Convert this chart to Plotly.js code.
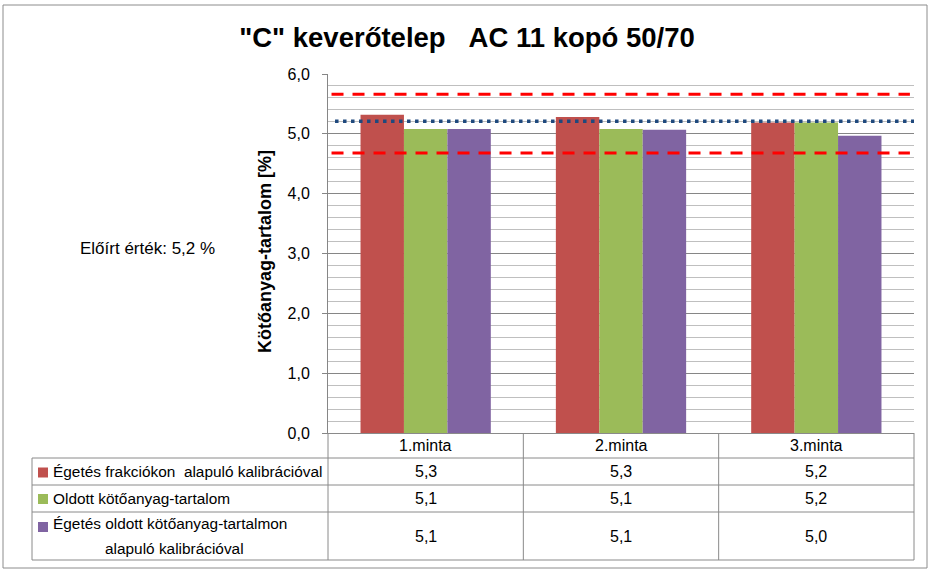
<!DOCTYPE html>
<html>
<head>
<meta charset="utf-8">
<script src="https://cdn.plot.ly/plotly-3.0.1.min.js"></script>
<style>html,body{margin:0;padding:0;background:#fff;}#chart{width:937px;height:573px;}</style>
</head>
<body>
<div id="chart"></div>
<script>
// ---- data ----
const categories = ['1.minta', '2.minta', '3.minta'];
const seriesNames = [
  'Égetés frakciókon\u00a0 alapuló kalibrációval',
  'Oldott kötőanyag-tartalom',
  'Égetés oldott kötőanyag-tartalmon<br>alapuló kalibrációval'
];
const fractionCalib = [5.32, 5.28, 5.19];
const dissolvedBinder = [5.08, 5.08, 5.19];
const dissolvedCalib = [5.08, 5.07, 4.97];
const upperLimit = 5.66;
const lowerLimit = 4.68;
const targetValue = 5.21;
const targetLabel = 'Előírt érték: 5,2 %';
const yTitle = 'Kötőanyag-tartalom [%]';
const chartTitle = '"C" keverőtelep\u00a0\u00a0\u00a0AC 11 kopó 50/70';
const colors = ['#C0504D', '#9BBB59', '#8064A2'];

// ---- layout helpers (pixel -> paper) ----
const L = 328, R = 914, T = 74, B = 433;
const X = px => (px - L) / (R - L);
const Y = py => (B - py) / (B - T);
const FONT = 'Liberation Sans, Arial, sans-serif';
const gridGray = '#868686';
const lineGray = '#8a8a8a';

const allSeries = [fractionCalib, dissolvedBinder, dissolvedCalib];
const traces = allSeries.map((vals, i) => ({
  type: 'bar', x: categories, y: vals, name: seriesNames[i].replace('<br>', ' '),
  marker: {color: colors[i], line: {width: 0}}, showlegend: false, hoverinfo: 'y'
}));
traces.push({type: 'scatter', mode: 'lines', xaxis: 'x2', yaxis: 'y', x: [0.006, 0.993], y: [upperLimit, upperLimit],
  line: {color: '#FF0000', width: 3, dash: '12px,9px'}, showlegend: false, hoverinfo: 'skip'});
traces.push({type: 'scatter', mode: 'lines', xaxis: 'x2', yaxis: 'y', x: [0.006, 0.993], y: [lowerLimit, lowerLimit],
  line: {color: '#FF0000', width: 3, dash: '12px,9px'}, showlegend: false, hoverinfo: 'skip'});
traces.push({type: 'scatter', mode: 'lines', xaxis: 'x2', yaxis: 'y', x: [0.012, 1], y: [targetValue, targetValue],
  line: {color: '#1F497D', width: 3.5, dash: '3.5px,4.5px'}, showlegend: false, hoverinfo: 'skip'});

const shapes = [];
const annotations = [];
const hline = (py, x0, x1) => shapes.push({type: 'line', xref: 'paper', yref: 'paper', x0: X(x0), x1: X(x1), y0: Y(py), y1: Y(py), line: {color: lineGray, width: 1}});
const vlinePx = (px, y0, y1) => shapes.push({type: 'line', xref: 'paper', yref: 'paper', x0: X(px), x1: X(px), y0: Y(y0), y1: Y(y1), line: {color: lineGray, width: 1}});
const vlineCat = (c, y0, y1) => shapes.push({type: 'line', xref: 'x', yref: 'paper', x0: c, x1: c, y0: Y(y0), y1: Y(y1), line: {color: lineGray, width: 1}});

// outer chart border
shapes.push({type: 'rect', xref: 'paper', yref: 'paper', x0: X(3), x1: X(927), y0: Y(5), y1: Y(568), line: {color: '#8c8c8c', width: 1}, fillcolor: 'rgba(0,0,0,0)', layer: 'below'});

// data table grid
const rowTops = [458, 485, 512, 560];
rowTops.forEach(py => hline(py, 32, R));
vlinePx(32, 458, 560);
vlinePx(L, B, 560);
vlineCat(0.5, B, 560);
vlineCat(1.5, B, 560);
vlinePx(R, B, 560);

const tfont = {family: FONT, size: 16, color: '#000'};
const lfont = {family: FONT, size: 15.4, color: '#000'};

// header labels
categories.forEach(c => annotations.push({xref: 'x', yref: 'paper', x: c, y: Y(445.5), text: c, showarrow: false,
  xanchor: 'center', yanchor: 'middle', font: tfont}));

// rows
const rowCenters = [471.5, 498.5, 536];
const keyCenters = [472.5, 499, 527];
allSeries.forEach((vals, i) => {
  shapes.push({type: 'rect', xref: 'paper', yref: 'paper', x0: X(38), x1: X(48), y0: Y(keyCenters[i] - 5), y1: Y(keyCenters[i] + 5),
    fillcolor: colors[i], line: {width: 0}});
  const lines = seriesNames[i].split('<br>');
  if (lines.length === 1) {
    annotations.push({xref: 'paper', yref: 'paper', x: X(51), y: Y(rowCenters[i]), text: lines[0], showarrow: false,
      xanchor: 'left', yanchor: 'middle', font: lfont});
  } else {
    annotations.push({xref: 'paper', yref: 'paper', x: X(51), y: Y(523.5), text: lines[0], showarrow: false,
      xanchor: 'left', yanchor: 'middle', font: lfont});
    annotations.push({xref: 'paper', yref: 'paper', x: X(174), y: Y(548), text: lines[1], showarrow: false,
      xanchor: 'center', yanchor: 'middle', font: lfont});
  }
  vals.forEach((v, j) => annotations.push({xref: 'x', yref: 'paper', x: categories[j], y: Y(rowCenters[i]),
    text: v.toFixed(1).replace('.', ','), showarrow: false, xanchor: 'center', yanchor: 'middle', font: tfont}));
});

// y axis title
annotations.push({xref: 'paper', yref: 'paper', x: X(265), y: Y(252), text: '<b>' + yTitle + '</b>', textangle: -90,
  showarrow: false, xanchor: 'center', yanchor: 'middle', font: {family: FONT, size: 18, color: '#000'}});
// prescribed value text
annotations.push({xref: 'paper', yref: 'paper', x: X(147), y: Y(248), text: targetLabel, showarrow: false,
  xanchor: 'center', yanchor: 'middle', font: {family: FONT, size: 17, color: '#000'}});

const layout = {
  width: 937, height: 573,
  margin: {l: L, r: 937 - R, t: T, b: 573 - B, pad: 0},
  paper_bgcolor: '#fff', plot_bgcolor: '#fff',
  separators: ',.',
  title: {text: '<b>' + chartTitle + '</b>', xref: 'container', yref: 'container', x: 467 / 937, y: 1 - 37 / 573,
    xanchor: 'center', yanchor: 'middle', font: {family: FONT, size: 27.5, color: '#000'}},
  barmode: 'group', bargap: 0.333, bargroupgap: 0,
  xaxis: {type: 'category', showticklabels: false, ticks: '', showgrid: false, zeroline: false,
    showline: true, linecolor: lineGray, linewidth: 1, fixedrange: true},
  xaxis2: {overlaying: 'x', range: [0, 1], visible: false, fixedrange: true},
  yaxis: {range: [0, 6], dtick: 1, tick0: 0, tickformat: '.1f', showline: true, linecolor: gridGray, linewidth: 1,
    showgrid: true, gridcolor: gridGray, gridwidth: 1, zeroline: false,
    ticks: 'outside', ticklen: 5, tickcolor: gridGray, ticklabelstandoff: 9,
    minor: {dtick: 0.2, showgrid: true, gridcolor: '#BFBFBF', gridwidth: 1, ticks: ''},
    tickfont: {family: FONT, size: 16, color: '#000'}, fixedrange: true},
  shapes: shapes,
  annotations: annotations
};

Plotly.newPlot('chart', traces, layout, {displayModeBar: false, staticPlot: true});
</script>
</body>
</html>
